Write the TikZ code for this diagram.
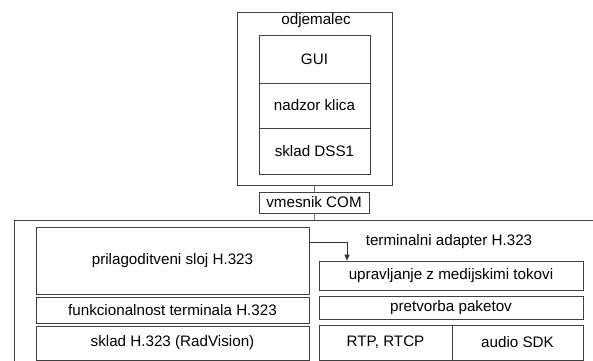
\documentclass[tikz,border=0pt]{standalone}
\usepackage{fontspec}
\setmainfont{Liberation Sans}
\usetikzlibrary{arrows.meta}

\begin{document}
\begin{tikzpicture}[x=1pt, y=-1pt,
    font=\fontsize{15.2}{18}\selectfont,
    blok/.style={draw=black!75, line width=0.9pt, inner sep=0pt, minimum width=#1},
    blok/.default=111pt]
    \useasboundingbox (0,0) rectangle (593,360);
    \clip (0,0) rectangle (593,360);

    % client side
    \node[blok=155pt, minimum height=173pt] (odj) at (314.5,98.5) {};
    \node (odjlbl) at (316,21) {odjemalec};
    \node[blok, minimum height=48pt] (gui) at (314.5,59) {GUI};
    \node[blok, minimum height=45pt] (nadzor) at (314.5,105.5) {nadzor klica};
    \node[blok, minimum height=46pt] (dss) at (314.5,151) {sklad DSS1};

    % COM interface
    \node[blok=110pt, minimum height=21pt] (vmes) at (314,202.5) {vmesnik COM};

    % terminal adapter
    \node[blok=606pt, minimum height=180pt] (ta) at (317,310) {};
    \node (talbl) at (449,242) {terminalni adapter H.323};

    % left stack
    \node[blok=273pt, minimum height=67pt] (pril) at (172.5,260.5) {prilagoditveni sloj H.323};
    \node[blok=273pt, minimum height=26pt] (funk) at (172.5,310) {funkcionalnost terminala H.323};
    \node[blok=273pt, minimum height=34pt] (skladh) at (172.5,343) {sklad H.323 (RadVision)};

    % right stack
    \node[blok=264pt, minimum height=29pt] (uprav) at (451,275.5) {upravljanje z medijskimi tokovi};
    \node[blok=264pt, minimum height=23pt] (pretv) at (451,307.5) {pretvorba paketov};
    \node[blok=133pt, minimum height=35pt] (rtp) at (385.5,342.5) {RTP, RTCP};
    \node[blok=131pt, minimum height=35pt] (audio) at (517.5,342.5) {audio SDK};

    % links
    \draw[black!55, line width=0.5pt] (odj.south -| vmes) -- (vmes.north);
    \draw[black!55, line width=0.5pt] (vmes.south) -- (vmes.south |- ta.north);
    \draw[black!80, line width=0.8pt, -{Triangle[length=6pt, width=5pt]}]
        (pril.east |- talbl) -| ([xshift=-104pt]uprav.north);
\end{tikzpicture}
\end{document}
